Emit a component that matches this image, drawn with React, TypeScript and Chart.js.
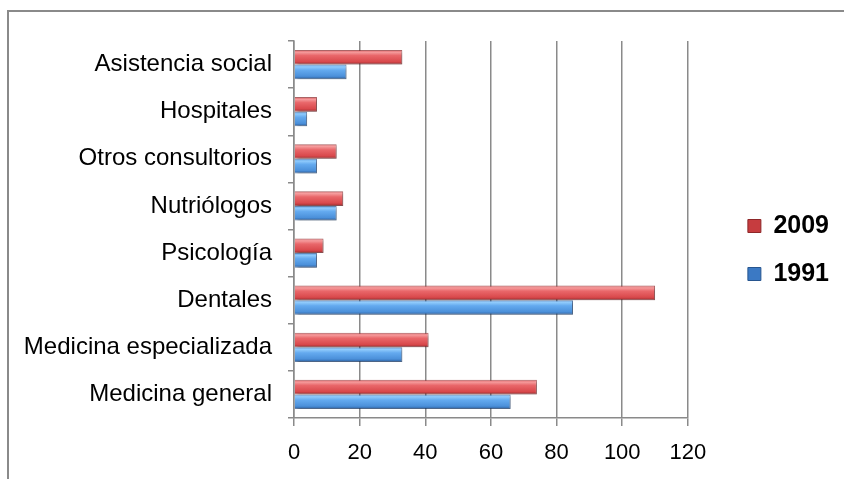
import { useEffect, useRef } from 'react';
import { Chart, registerables } from 'chart.js';

Chart.register(...registerables);

const categories = [
  'Asistencia social',
  'Hospitales',
  'Otros consultorios',
  'Nutriólogos',
  'Psicología',
  'Dentales',
  'Medicina especializada',
  'Medicina general',
];
const seriesLabels = ['2009', '1991'];
const values2009 = [33, 7, 13, 15, 9, 110, 41, 74];
const values1991 = [16, 4, 7, 13, 7, 85, 33, 66];
const xMin = 0;
const xMax = 120;
const xStep = 20;

const CAT_PCT = 0.62;
const FONT = '"Liberation Sans", Arial, Helvetica, sans-serif';
const GRID = '#8a8a8a';
const LEGEND_SHIFT = 10;

const redStops: [number, string][] = [
  [0, '#d64c4f'],
  [0.15, '#f59c9d'],
  [0.38, '#e9676a'],
  [0.8, '#d9494c'],
  [1, '#9c2c2f'],
];
const blueStops: [number, string][] = [
  [0, '#4a8fd8'],
  [0.15, '#90cbfc'],
  [0.38, '#64aaef'],
  [0.8, '#4b90da'],
  [1, '#2b5c9a'],
];

function barFill(stops: [number, string][], solid: string) {
  return (ctx: any) => {
    const chart = ctx.chart;
    const ys = chart.scales && chart.scales.y;
    if (!ys || ctx.type !== 'data' || !chart.chartArea) return solid;
    const n = chart.data.labels.length;
    const nds = chart.data.datasets.length;
    const catH = ys.height / n;
    const pair = catH * CAT_PCT;
    const bar = pair / nds;
    const c = ys.getPixelForValue(ctx.dataIndex);
    const top = c - pair / 2 + ctx.datasetIndex * bar;
    if (!isFinite(top) || !isFinite(bar) || bar <= 0) return solid;
    const g = chart.ctx.createLinearGradient(0, top, 0, top + bar);
    stops.forEach(([o, col]) => g.addColorStop(o, col));
    return g;
  };
}

const legendFill = ['#c63c3f', '#3b79c4'];
const legendStroke = ['#8e2729', '#27558f'];

const shadowPlugin = {
  id: 'barShadow',
  beforeDatasetsDraw(chart: any) {
    const c = chart.ctx;
    c.save();
    c.shadowColor = 'rgba(0,0,0,0.3)';
    c.shadowBlur = 3;
    c.shadowOffsetX = 2;
    c.shadowOffsetY = 2;
  },
  afterDatasetsDraw(chart: any) {
    chart.ctx.restore();
  },
};

const legendShiftPlugin = {
  id: 'legendShift',
  afterLayout(chart: any) {
    const lg = chart.legend;
    if (lg) {
      lg.top -= LEGEND_SHIFT;
      lg.bottom -= LEGEND_SHIFT;
    }
  },
};

export default function App() {
  const ref = useRef<HTMLCanvasElement | null>(null);

  useEffect(() => {
    if (!ref.current) return;
    const chart = new Chart(ref.current, {
      type: 'bar',
      data: {
        labels: categories,
        datasets: [
          {
            label: seriesLabels[0],
            data: values2009,
            backgroundColor: barFill(redStops, '#e05a5d'),
            borderColor: 'rgba(140,35,38,0.7)',
            borderWidth: 1,
            categoryPercentage: CAT_PCT,
            barPercentage: 1,
            xAxisID: 'x',
            yAxisID: 'y',
          },
          {
            label: seriesLabels[1],
            data: values1991,
            backgroundColor: barFill(blueStops, '#5599e3'),
            borderColor: 'rgba(35,80,140,0.7)',
            borderWidth: 1,
            categoryPercentage: CAT_PCT,
            barPercentage: 1,
            xAxisID: 'x',
            yAxisID: 'y',
          },
        ],
      },
      options: {
        indexAxis: 'y',
        responsive: false,
        animation: false,
        devicePixelRatio: 1,
        layout: { padding: { left: 0, top: 41, right: 5, bottom: 0 } },
        scales: {
          x: {
            type: 'linear',
            position: 'bottom',
            min: xMin,
            max: xMax,
            ticks: {
              stepSize: xStep,
              color: '#000',
              font: { family: FONT, size: 22 },
              padding: 14,
            },
            grid: {
              color: GRID,
              lineWidth: 1.5,
              drawTicks: true,
              tickLength: 8,
            },
            border: { display: true, color: GRID, width: 1.5 },
            afterFit: (s: any) => {
              s.height = 61;
            },
          },
          y: {
            type: 'category',
            position: 'left',
            ticks: {
              color: '#000',
              font: { family: FONT, size: 24 },
              padding: 16,
            },
            grid: {
              drawOnChartArea: false,
              drawTicks: true,
              tickLength: 6,
              color: GRID,
              lineWidth: 1.5,
            },
            border: { display: true, color: GRID, width: 1.5 },
            afterFit: (s: any) => {
              s.width = 294;
            },
          },
          gap: {
            type: 'linear',
            axis: 'y',
            position: 'right',
            display: true,
            grid: { display: false },
            border: { display: false },
            ticks: { display: false },
            afterFit: (s: any) => {
              s.width = 37;
            },
          },
        },
        plugins: {
          legend: {
            display: true,
            position: 'right',
            align: 'center',
            labels: {
              boxWidth: 13,
              boxHeight: 13,
              padding: 23,
              color: '#000',
              font: { family: FONT, size: 25, weight: 'bold' },
              generateLabels: (ch: any) => {
                const items = Chart.defaults.plugins.legend.labels.generateLabels(ch);
                return items.map((it: any, i: number) => ({
                  ...it,
                  fillStyle: legendFill[i],
                  strokeStyle: legendStroke[i],
                  lineWidth: 1,
                }));
              },
            },
          },
          tooltip: { enabled: false },
        },
      } as any,
      plugins: [shadowPlugin, legendShiftPlugin],
    });
    return () => chart.destroy();
  }, []);

  return (
    <div
      style={{
        position: 'fixed',
        left: 0,
        top: 0,
        width: 844,
        height: 479,
        background: '#fff',
        overflow: 'hidden',
      }}
    >
      <div
        style={{
          position: 'absolute',
          left: 7,
          top: 10,
          width: 900,
          height: 600,
          borderTop: '2px solid #8a8a8a',
          borderLeft: '2px solid #8a8a8a',
        }}
      />
      <canvas
        ref={ref}
        width={844}
        height={479}
        style={{ position: 'absolute', left: 0, top: 0, width: 844, height: 479 }}
      />
    </div>
  );
}
